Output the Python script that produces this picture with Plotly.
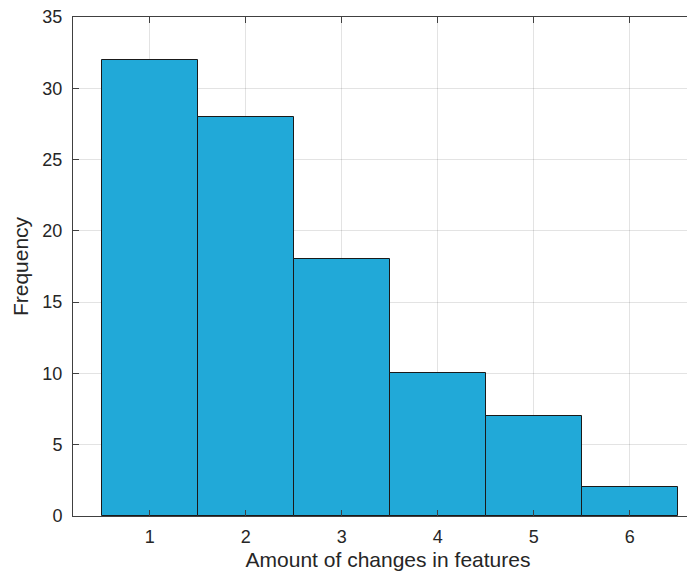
import plotly.graph_objects as go

changes = [1, 2, 3, 4, 5, 6]
frequency = [32, 28, 18, 10, 7, 2]
x_ticks = [1, 2, 3, 4, 5, 6]
y_ticks = [0, 5, 10, 15, 20, 25, 30, 35]
x_title = "Amount of changes in features"
y_title = "Frequency"

fig = go.Figure(go.Bar(
    x=changes, y=frequency, width=1,
    marker=dict(color="rgb(33,169,216)", line=dict(color="#1a1a1a", width=1)),
))

tick_font = dict(family="Liberation Sans, Arial, sans-serif", size=18, color="#262626")
title_font = dict(family="Liberation Sans, Arial, sans-serif", size=21, color="#262626")
fig.update_layout(
    width=695, height=579,
    margin=dict(l=65, r=0, t=9, b=71),
    plot_bgcolor="white", paper_bgcolor="white",
    showlegend=False,
    font=tick_font,
    bargap=0,
)
fig.update_xaxes(
    range=[0.2, 6.7625], tickvals=x_ticks, ticks="inside", ticklen=6, tickcolor="#404040",
    showline=True, linecolor="#404040", linewidth=1, mirror="ticks",
    showgrid=True, gridcolor="rgba(38,38,38,0.13)", gridwidth=1, layer="above traces",
    zeroline=False, tickfont=tick_font, ticklabelstandoff=4, automargin=False,
    ticklabeloverflow="allow",
    title=dict(text=x_title, font=title_font, standoff=6),
)
fig.update_yaxes(
    range=[0, 35], tickvals=y_ticks, ticks="inside", ticklen=6, tickcolor="#404040",
    showline=True, linecolor="#404040", linewidth=1,
    showgrid=True, gridcolor="rgba(38,38,38,0.13)", gridwidth=1, layer="above traces",
    zeroline=False, tickfont=tick_font, ticklabelstandoff=6, automargin=False,
    ticklabeloverflow="allow",
    title=dict(text=y_title, font=title_font, standoff=8),
)
fig.write_html("out.html")
